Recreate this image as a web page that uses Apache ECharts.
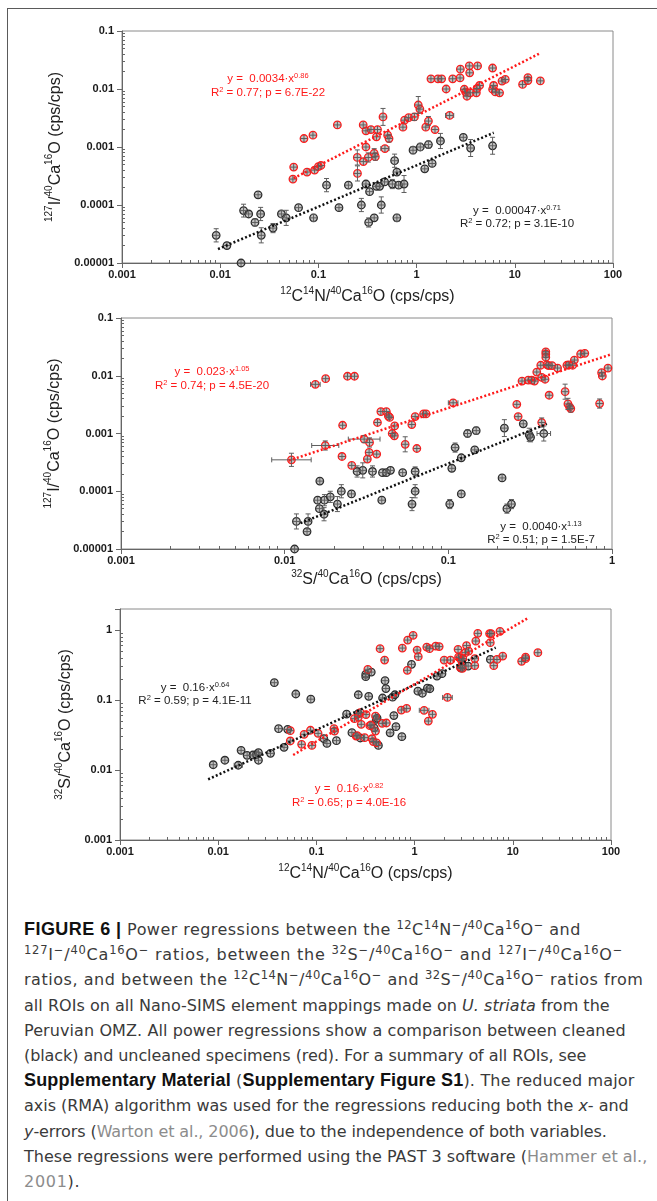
<!DOCTYPE html>
<html>
<head>
<meta charset="utf-8">
<script src="https://cdn.jsdelivr.net/npm/echarts@6/dist/echarts.min.js"></script>
<style>
html, body { margin: 0; padding: 0; background: #fff; width: 657px; height: 1201px; overflow: hidden; }
#frame { position: absolute; left: 7px; top: 8px; width: 720px; height: 1300px; border: 1px solid #5a5a5a; }
#main { position: absolute; left: 0; top: 0; width: 657px; height: 900px; }
#cap { position: absolute; left: 24px; top: 917px; font-family: 'DejaVu Sans', sans-serif; font-size: 16px;
       line-height: 25.2px; color: #3a3a3a; white-space: nowrap; }
#cap .ln { width: max-content; }
#cap b { color: #111; font-family: 'Liberation Sans', sans-serif; font-size: 18px; }
#cap sup { font-size: 0.72em; line-height: 0; vertical-align: 0.55em; }
#cap .l { color: #8c8c8c; }
</style>
</head>
<body>
<div id="frame"></div>
<div id="main"></div>
<div id="cap">
<div class="ln"><b>FIGURE 6 |</b> Power regressions between the <sup>12</sup>C<sup>14</sup>N<sup>−</sup>/<sup>40</sup>Ca<sup>16</sup>O<sup>−</sup> and</div>
<div class="ln"><sup>127</sup>I<sup>−</sup>/<sup>40</sup>Ca<sup>16</sup>O<sup>−</sup> ratios, between the <sup>32</sup>S<sup>−</sup>/<sup>40</sup>Ca<sup>16</sup>O<sup>−</sup> and <sup>127</sup>I<sup>−</sup>/<sup>40</sup>Ca<sup>16</sup>O<sup>−</sup></div>
<div class="ln">ratios, and between the <sup>12</sup>C<sup>14</sup>N<sup>−</sup>/<sup>40</sup>Ca<sup>16</sup>O<sup>−</sup> and <sup>32</sup>S<sup>−</sup>/<sup>40</sup>Ca<sup>16</sup>O<sup>−</sup> ratios from</div>
<div class="ln">all ROIs on all Nano-SIMS element mappings made on <i>U. striata</i> from the</div>
<div class="ln">Peruvian OMZ. All power regressions show a comparison between cleaned</div>
<div class="ln">(black) and uncleaned specimens (red). For a summary of all ROIs, see</div>
<div class="ln"><b>Supplementary Material</b> (<b>Supplementary Figure S1</b>). The reduced major</div>
<div class="ln">axis (RMA) algorithm was used for the regressions reducing both the <i>x</i>- and</div>
<div class="ln"><i>y</i>-errors (<span class="l">Warton et al., 2006</span>), due to the independence of both variables.</div>
<div class="ln">These regressions were performed using the PAST 3 software (<span class="l">Hammer et al.,</span></div>
<div class="ln"><span class="l">2001</span>).</div>
</div>
<script>
// tick labels
var xTicksCN = ['0.001', '0.01', '0.1', '1', '10', '100'];
var yTicksI = ['0.00001', '0.0001', '0.001', '0.01', '0.1'];
var xTicksS = ['0.001', '0.01', '0.1', '1'];
var yTicksS = ['0.001', '0.01', '0.1', '1'];

// chart 1: CN vs I   [x, y, y error factor, x error factor]
var c1Black = [
    [0.0091, 0.00003, 1.3, 0], [0.0117, 0.00002, 0, 0], [0.0163, 0.00001, 0, 0], [0.0173, 0.00008, 1.29, 0],
    [0.0195, 0.00007, 0, 0], [0.0226, 0.00005, 1.12, 0], [0.0243, 0.00015, 0, 0], [0.0258, 0.00007, 1.3, 0],
    [0.0262, 0.00003, 1.35, 0], [0.0345, 0.00004, 1.2, 0], [0.042, 0.00007, 1.12, 0], [0.047, 0.00006, 1.35, 0],
    [0.0628, 0.00009, 0, 0], [0.0893, 0.00006, 1.15, 0], [0.121, 0.00022, 1.3, 0], [0.162, 0.00009, 0, 0],
    [0.202, 0.00022, 0, 0], [0.274, 0.0001, 1.3, 0], [0.305, 0.00023, 0, 0], [0.325, 0.00005, 1.2, 0],
    [0.332, 0.00017, 0, 0], [0.37, 0.00006, 0, 0], [0.39, 0.00021, 0, 0], [0.42, 0.00021, 0, 0],
    [0.437, 0.0001, 1.38, 0], [0.472, 0.00025, 0, 0], [0.566, 0.00023, 1.2, 0], [0.597, 0.00058, 1.3, 0],
    [0.63, 0.00037, 0, 0], [0.63, 0.00006, 1.15, 0], [0.656, 0.00022, 0, 0], [0.745, 0.00023, 1.4, 0],
    [0.92, 0.00088, 1.15, 0], [1.09, 0.001, 1.15, 0], [1.21, 0.00042, 0, 0], [1.32, 0.0011, 1.15, 0],
    [1.44, 0.00052, 0, 0], [1.75, 0.00127, 1.35, 0], [2.99, 0.00147, 0, 0], [3.55, 0.00096, 1.4, 0],
    [5.94, 0.00105, 1.4, 0]
];
var c1Red = [
    [0.055, 0.00028, 0, 0], [0.056, 0.00045, 0, 0], [0.0713, 0.0014, 0, 0], [0.0766, 0.00037, 0, 0],
    [0.088, 0.0016, 0, 0], [0.0915, 0.0004, 0, 0], [0.1, 0.00046, 0, 0], [0.106, 0.00048, 0, 0],
    [0.156, 0.0024, 0, 0], [0.249, 0.00066, 1.35, 0], [0.25, 0.00035, 1.35, 0], [0.286, 0.0024, 0, 0],
    [0.287, 0.00056, 0, 0], [0.305, 0.0019, 0, 0], [0.305, 0.001, 0, 0], [0.322, 0.00066, 1.2, 0],
    [0.343, 0.002, 0, 0], [0.37, 0.00078, 1.2, 0], [0.38, 0.00068, 1.15, 0], [0.39, 0.0015, 0, 0],
    [0.4, 0.002, 0, 0], [0.455, 0.0033, 1.4, 0], [0.476, 0.00094, 0, 1.1], [0.507, 0.0016, 0, 0],
    [0.524, 0.0014, 1.15, 0], [0.726, 0.0022, 0, 0], [0.755, 0.0029, 0, 0], [0.83, 0.0032, 0, 0],
    [0.95, 0.0033, 1.15, 0], [1.04, 0.0053, 1.4, 0], [1.08, 0.0045, 0, 0], [1.24, 0.0022, 0, 0],
    [1.32, 0.0028, 1.2, 0], [1.54, 0.002, 0, 0], [2.17, 0.0035, 0, 1.1], [2.0, 0.01, 0, 0],
    [1.4, 0.015, 0, 0], [1.65, 0.015, 0, 0], [1.8, 0.015, 0, 0], [2.33, 0.015, 0, 0],
    [2.77, 0.0155, 0, 0], [2.79, 0.022, 0, 0], [3.44, 0.025, 0, 0], [3.47, 0.019, 0, 0],
    [4.18, 0.025, 0, 0], [5.94, 0.023, 0, 0], [3.06, 0.0099, 0, 0], [3.16, 0.0089, 0, 0],
    [3.26, 0.0075, 0, 0], [3.52, 0.0086, 0, 0], [4.06, 0.0086, 0, 0], [4.12, 0.0102, 0, 0],
    [4.38, 0.0115, 0, 0], [5.94, 0.0099, 0, 0], [6.09, 0.0115, 0, 0], [6.33, 0.0089, 0, 0],
    [7.0, 0.0086, 0, 0], [7.41, 0.0137, 0, 0], [8.0, 0.0146, 0, 0], [12.0, 0.012, 0, 0],
    [13.6, 0.0157, 0, 0], [13.6, 0.014, 0, 0], [18.2, 0.0138, 0, 0]
];
var c1BlackFit = [[0.0095, 0.0000174], [6.1, 0.00176]];
var c1RedFit = [[0.056, 0.00029], [18.4, 0.042]];

// chart 2: S vs I
var c2Black = [
    [0.0115, 0.00001, 0, 0], [0.0118, 0.00003, 1.35, 0], [0.0137, 0.00002, 0, 0], [0.0139, 0.00003, 1.35, 0],
    [0.0159, 0.00007, 0, 0], [0.0163, 0.00005, 0, 0], [0.0164, 0.00015, 0, 0], [0.0174, 0.00004, 1.3, 0],
    [0.0175, 0.00007, 1.25, 0], [0.019, 0.00008, 1.25, 0], [0.021, 0.00006, 1.35, 0], [0.0222, 0.0001, 1.3, 0],
    [0.0256, 0.00009, 0, 0], [0.0277, 0.00022, 1.25, 0], [0.03, 0.00023, 1.35, 0], [0.0344, 0.00022, 1.25, 0],
    [0.0392, 0.00007, 0, 0], [0.0396, 0.00021, 0, 0], [0.0418, 0.00021, 0, 0], [0.0443, 0.00023, 0, 0],
    [0.0526, 0.00021, 0, 0], [0.0627, 0.00022, 1.2, 0], [0.06, 0.00006, 1.3, 0], [0.0627, 0.0001, 1.3, 0],
    [0.102, 0.00006, 1.2, 0], [0.105, 0.00025, 0, 0], [0.11, 0.00057, 1.2, 0], [0.12, 0.00038, 0, 0],
    [0.12, 0.00009, 0, 0], [0.131, 0.001, 1.15, 0], [0.145, 0.00052, 0, 0], [0.148, 0.00112, 1.15, 0],
    [0.213, 0.00017, 0, 0], [0.22, 0.00124, 1.4, 0], [0.228, 0.00005, 1.2, 0], [0.243, 0.00006, 1.2, 0],
    [0.287, 0.00147, 0, 0], [0.312, 0.00095, 1.3, 0], [0.318, 0.00086, 1.2, 0], [0.383, 0.001, 1.35, 1.1]
];
var c2Red = [
    [0.011, 0.00035, 1.3, 1.32], [0.0177, 0.00062, 1.2, 1.21], [0.0154, 0.0071, 0, 1.07], [0.0178, 0.0089, 0, 0],
    [0.0242, 0.0098, 0, 0], [0.0267, 0.0098, 0, 0], [0.0226, 0.00139, 0, 0], [0.0224, 0.0004, 0, 0],
    [0.0257, 0.00028, 0, 0], [0.0306, 0.0008, 1.15, 1.25], [0.033, 0.0007, 1.2, 0], [0.0328, 0.00047, 0, 0],
    [0.032, 0.00036, 0, 0], [0.0365, 0.00044, 0, 0], [0.0369, 0.00155, 0, 0], [0.0387, 0.0024, 0, 0],
    [0.0418, 0.0024, 0, 0], [0.043, 0.002, 0, 0], [0.0438, 0.0019, 0, 0], [0.0454, 0.001, 0, 0],
    [0.0468, 0.00091, 0, 0], [0.047, 0.00135, 0, 0], [0.0545, 0.00065, 1.35, 0], [0.0598, 0.00143, 0, 0],
    [0.0627, 0.00196, 0, 0], [0.0642, 0.00055, 0, 0], [0.0706, 0.00218, 0, 0], [0.0731, 0.00218, 0, 0],
    [0.107, 0.0034, 0, 1.07], [0.262, 0.0032, 0, 0], [0.267, 0.00196, 0, 0], [0.282, 0.0081, 0, 0],
    [0.308, 0.0084, 0, 0], [0.323, 0.0084, 0, 0], [0.336, 0.0081, 0, 0], [0.347, 0.0116, 0, 0],
    [0.367, 0.0152, 0, 0], [0.372, 0.0094, 0, 0], [0.39, 0.0087, 0, 0], [0.394, 0.026, 0, 0],
    [0.394, 0.0238, 0, 0], [0.394, 0.0209, 0, 0], [0.40, 0.0155, 0, 0], [0.41, 0.015, 0, 0],
    [0.43, 0.015, 0, 0], [0.372, 0.00155, 1.2, 0], [0.413, 0.0046, 0, 0], [0.465, 0.0136, 0, 0],
    [0.53, 0.0152, 0, 0], [0.545, 0.0154, 0, 0], [0.517, 0.0053, 1.35, 0], [0.538, 0.00325, 1.25, 0],
    [0.55, 0.0029, 0, 0], [0.56, 0.0027, 1.15, 0], [0.575, 0.0152, 0, 0], [0.589, 0.0187, 0, 0],
    [0.643, 0.0238, 0, 0], [0.682, 0.0245, 0, 0], [0.84, 0.0033, 1.2, 0], [0.864, 0.0113, 0, 0],
    [0.873, 0.0099, 0, 0], [0.945, 0.0136, 0, 0]
];
var c2BlackFit = [[0.0125, 0.000028], [0.40, 0.00147]];
var c2RedFit = [[0.0106, 0.00034], [0.99, 0.0235]];

// chart 3: CN vs S
var c3Black = [
    [0.0089, 0.0119], [0.0117, 0.0138], [0.016, 0.0117, 0, 1.1], [0.0171, 0.0191], [0.0197, 0.0162],
    [0.0226, 0.0164], [0.0245, 0.0166], [0.0257, 0.0177], [0.0257, 0.0138], [0.0341, 0.0173],
    [0.0412, 0.039], [0.0468, 0.0211], [0.051, 0.0381], [0.0373, 0.177], [0.0617, 0.122],
    [0.0877, 0.103], [0.119, 0.0281], [0.128, 0.024], [0.16, 0.0263], [0.203, 0.063],
    [0.23, 0.0342], [0.267, 0.119], [0.267, 0.064], [0.28, 0.0287], [0.318, 0.233],
    [0.318, 0.216], [0.362, 0.251], [0.341, 0.113], [0.387, 0.04], [0.407, 0.053],
    [0.415, 0.0553], [0.428, 0.0225], [0.472, 0.107], [0.5, 0.189], [0.51, 0.146],
    [0.563, 0.034], [0.597, 0.11], [0.615, 0.06], [0.646, 0.0417], [0.63, 0.119],
    [0.742, 0.03], [0.93, 0.324], [1.08, 0.134], [1.2, 0.125], [1.35, 0.148],
    [1.43, 0.145], [1.69, 0.22], [1.9, 0.238], [2.97, 0.286], [3.06, 0.313],
    [3.51, 0.306], [5.91, 0.381]
];
var c3Red = [
    [0.0542, 0.0365], [0.0542, 0.026], [0.0707, 0.0233], [0.075, 0.0324], [0.087, 0.037],
    [0.09, 0.0225], [0.104, 0.0334], [0.151, 0.039], [0.153, 0.036], [0.244, 0.0542],
    [0.267, 0.057], [0.254, 0.0306], [0.28, 0.066], [0.26, 0.031], [0.286, 0.045],
    [0.31, 0.029], [0.32, 0.062], [0.334, 0.275], [0.35, 0.043], [0.36, 0.044],
    [0.369, 0.028], [0.38, 0.0255], [0.4, 0.036], [0.4, 0.059], [0.41, 0.0245],
    [0.445, 0.542], [0.495, 0.373], [0.468, 0.0465], [0.516, 0.047], [0.733, 0.072],
    [0.75, 0.553], [0.83, 0.076], [0.843, 0.266], [0.85, 0.72], [0.966, 0.84],
    [1.06, 0.518], [1.09, 0.416], [1.25, 0.0713, 0, 1.12], [1.33, 0.572], [1.42, 0.542],
    [1.38, 0.05], [1.52, 0.0625], [1.64, 0.59], [1.78, 0.58], [2.0, 0.373],
    [2.16, 0.109, 0, 1.12], [2.32, 0.373], [2.77, 0.53], [2.8, 0.41], [2.9, 0.4],
    [3.0, 0.37], [2.93, 0.29], [3.07, 0.284], [3.38, 0.6], [3.3, 0.475],
    [3.55, 0.5], [3.1, 0.39], [4.1, 0.39], [4.1, 0.31], [4.2, 0.697],
    [4.4, 0.897], [5.8, 0.89], [6.0, 0.89], [5.9, 0.66], [6.4, 0.31],
    [6.9, 0.38], [7.4, 0.96], [7.9, 0.425], [12.3, 0.357], [13.5, 0.39],
    [13.5, 0.41], [18, 0.475]
];
var c3BlackFit = [[0.0079, 0.00736], [6.7, 0.56]];
var c3RedFit = [[0.058, 0.0164], [14, 1.46]];

// right edge of each caption line in the figure
var capLineEnds = [580, 622, 643, 609.5, 625.5, 586.5, 634.7, 628.4, 606.6, 647, 79.6];

var RED = '#ff1a1a';
var FONT = 'Liberation Sans';

function decadeLabel(ticks, minExp) {
    return function (v) {
        var e = Math.log10(v), r = Math.round(e);
        if (Math.abs(e - r) > 1e-6) return '';
        return ticks[r - minExp] || '';
    };
}

function minorTicks(minExp, maxLog) {
    var out = [];
    for (var d = minExp; d < maxLog; d++) {
        for (var m = 2; m <= 9; m++) {
            var v = d + Math.log10(m);
            if (v < maxLog - 1e-9) out.push(v);
        }
    }
    return out;
}

var nameRich = {
    b: { fontSize: 16, fontFamily: FONT, color: '#222', lineHeight: 19, verticalAlign: 'bottom' },
    s: { fontSize: 10, fontFamily: FONT, color: '#222', lineHeight: 19, verticalAlign: 'top' }
};

var tickLine = { color: '#666', width: 1 };

function logAxis(gi, min, max, ticks, minExp, name, gap, isY) {
    return {
        type: 'log', logBase: 10, gridIndex: gi, min: min, max: max,
        position: isY ? 'left' : 'bottom',
        axisLine: { show: true, onZero: false, lineStyle: tickLine },
        axisTick: { show: true, length: 5, lineStyle: tickLine },
        minorTick: { show: false },
        splitLine: { show: false },
        axisLabel: {
            formatter: decadeLabel(ticks, minExp), color: '#1a1a1a', fontWeight: 'bold',
            fontSize: 11, fontFamily: FONT, margin: isY ? 8 : 6
        },
        name: name, nameLocation: 'middle', nameGap: gap, nameRotate: isY ? 90 : 0,
        nameTextStyle: { rich: nameRich }
    };
}

function minorAxis(gi, minE, maxE, isY) {
    return {
        type: 'value', gridIndex: gi, min: minE, max: maxE,
        position: isY ? 'left' : 'bottom',
        axisLine: { show: false, onZero: false }, axisLabel: { show: false }, splitLine: { show: false },
        axisTick: { show: true, inside: true, length: 3, customValues: minorTicks(minE, maxE), lineStyle: tickLine }
    };
}

function norm(data) {
    return data.map(function (d) { return [d[0], d[1], d[2] || 0, d[3] || 0]; });
}

function scatter(gi, data, ring) {
    return {
        type: 'scatter', xAxisIndex: 2 * gi, yAxisIndex: 2 * gi, data: norm(data),
        symbol: 'circle', symbolSize: 7.5, z: 2, silent: true,
        itemStyle: { color: 'rgba(125,125,125,0.45)', borderColor: ring, borderWidth: 1.3, opacity: 1 }
    };
}

function bars(gi, data) {
    return {
        type: 'custom', xAxisIndex: 2 * gi, yAxisIndex: 2 * gi, data: norm(data), z: 3, silent: true,
        renderItem: function (params, api) {
            var x = api.value(0), y = api.value(1), ey = api.value(2), ex = api.value(3);
            var c = api.coord([x, y]);
            var st = { stroke: '#5e5e5e', lineWidth: 1 };
            var kids = [];
            var top = c[1] - 3.5, bot = c[1] + 3.5, lft = c[0] - 3.5, rgt = c[0] + 3.5;
            if (ey > 1) {
                top = Math.min(top, api.coord([x, y * ey])[1]);
                bot = Math.max(bot, api.coord([x, y / ey])[1]);
                kids.push({ type: 'line', shape: { x1: c[0] - 2.5, y1: top, x2: c[0] + 2.5, y2: top }, style: st });
                kids.push({ type: 'line', shape: { x1: c[0] - 2.5, y1: bot, x2: c[0] + 2.5, y2: bot }, style: st });
            }
            if (ex > 1) {
                lft = Math.min(lft, api.coord([x / ex, y])[0]);
                rgt = Math.max(rgt, api.coord([x * ex, y])[0]);
                kids.push({ type: 'line', shape: { x1: lft, y1: c[1] - 2.5, x2: lft, y2: c[1] + 2.5 }, style: st });
                kids.push({ type: 'line', shape: { x1: rgt, y1: c[1] - 2.5, x2: rgt, y2: c[1] + 2.5 }, style: st });
            }
            kids.push({ type: 'line', shape: { x1: c[0], y1: top, x2: c[0], y2: bot }, style: st });
            kids.push({ type: 'line', shape: { x1: lft, y1: c[1], x2: rgt, y2: c[1] }, style: st });
            return { type: 'group', children: kids };
        }
    };
}

function fit(gi, data, color) {
    return {
        type: 'line', xAxisIndex: 2 * gi, yAxisIndex: 2 * gi, data: data, z: 5, silent: true,
        showSymbol: false, symbol: 'none',
        lineStyle: { color: color, width: 2.5, type: [2, 2.2], cap: 'butt' }
    };
}

function note(x, y, text, color) {
    return {
        type: 'text', x: x, y: y, silent: true,
        style: {
            text: text, fill: color, align: 'center', verticalAlign: 'middle',
            rich: {
                a: { fontSize: 11.5, fontFamily: FONT, fill: color, lineHeight: 13, verticalAlign: 'bottom' },
                s: { fontSize: 7.5, fontFamily: FONT, fill: color, lineHeight: 13, verticalAlign: 'top' }
            }
        }
    };
}

var nameCN = '{s|12}{b|C}{s|14}{b|N/}{s|40}{b|Ca}{s|16}{b|O (cps/cps)}';
var nameI = '{s|127}{b|I/}{s|40}{b|Ca}{s|16}{b|O (cps/cps)}';
var nameS = '{s|32}{b|S/}{s|40}{b|Ca}{s|16}{b|O (cps/cps)}';

var gridBox = { show: true, borderColor: '#8a8a8a', borderWidth: 1, backgroundColor: 'transparent' };

var myChart = echarts.init(document.getElementById('main'));

var option = {
    animation: false,
    backgroundColor: 'transparent',
    grid: [
        Object.assign({ left: 122, top: 31, width: 491, height: 232 }, gridBox),
        Object.assign({ left: 121, top: 318, width: 491, height: 231 }, gridBox),
        Object.assign({ left: 120, top: 609, width: 491, height: 231 }, gridBox)
    ],
    xAxis: [
        logAxis(0, 0.001, 100, xTicksCN, -3, nameCN, 23, false), minorAxis(0, -3, 2, false),
        logAxis(1, 0.001, 1, xTicksS, -3, nameS, 20, false), minorAxis(1, -3, 0, false),
        logAxis(2, 0.001, 100, xTicksCN, -3, nameCN, 23, false), minorAxis(2, -3, 2, false)
    ],
    yAxis: [
        logAxis(0, 0.00001, 0.1, yTicksI, -5, nameI, 54, true), minorAxis(0, -5, -1, true),
        logAxis(1, 0.00001, 0.1, yTicksI, -5, nameI, 46, true), minorAxis(1, -5, -1, true),
        logAxis(2, 0.001, 2, yTicksS, -3, nameS, 43, true), minorAxis(2, -3, Math.log10(2), true)
    ],
    series: [
        scatter(0, c1Black, '#2b2b2b'), scatter(0, c1Red, RED), bars(0, c1Black), bars(0, c1Red),
        fit(0, c1BlackFit, '#111'), fit(0, c1RedFit, RED),
        scatter(1, c2Black, '#2b2b2b'), scatter(1, c2Red, RED), bars(1, c2Black), bars(1, c2Red),
        fit(1, c2BlackFit, '#111'), fit(1, c2RedFit, RED),
        scatter(2, c3Black, '#2b2b2b'), scatter(2, c3Red, RED), bars(2, c3Black), bars(2, c3Red),
        fit(2, c3BlackFit, '#111'), fit(2, c3RedFit, RED)
    ],
    graphic: [
        note(268, 78, '{a|y =  0.0034·x}{s|0.86}', RED),
        note(268, 92, '{a|R}{s|2}{a| = 0.77; p = 6.7E-22}', RED),
        note(517, 210, '{a|y =  0.00047·x}{s|0.71}', '#222'),
        note(517, 223, '{a|R}{s|2}{a| = 0.72; p = 3.1E-10}', '#222'),
        note(212, 371, '{a|y =  0.023·x}{s|1.05}', RED),
        note(212, 385, '{a|R}{s|2}{a| = 0.74; p = 4.5E-20}', RED),
        note(541, 526, '{a|y =  0.0040·x}{s|1.13}', '#222'),
        note(541, 539, '{a|R}{s|2}{a| = 0.51; p = 1.5E-7}', '#222'),
        note(195, 687, '{a|y =  0.16·x}{s|0.64}', '#222'),
        note(195, 700, '{a|R}{s|2}{a| = 0.59; p = 4.1E-11}', '#222'),
        note(349, 788, '{a|y =  0.16·x}{s|0.82}', RED),
        note(349, 802, '{a|R}{s|2}{a| = 0.65; p = 4.0E-16}', RED)
    ]
};

myChart.setOption(option);

// stretch each caption line so that it ends where the figure's line ends
var capLeft = 24;
document.querySelectorAll('#cap .ln').forEach(function (ln, i) {
    var w = ln.getBoundingClientRect().width;
    var n = ln.textContent.trim().length - 1;
    if (n < 1) return;
    var ls = (capLineEnds[i] - capLeft - w) / n;
    ls = Math.max(-1, Math.min(1.5, ls));
    ln.style.letterSpacing = ls.toFixed(2) + 'px';
});
</script>
</body>
</html>
